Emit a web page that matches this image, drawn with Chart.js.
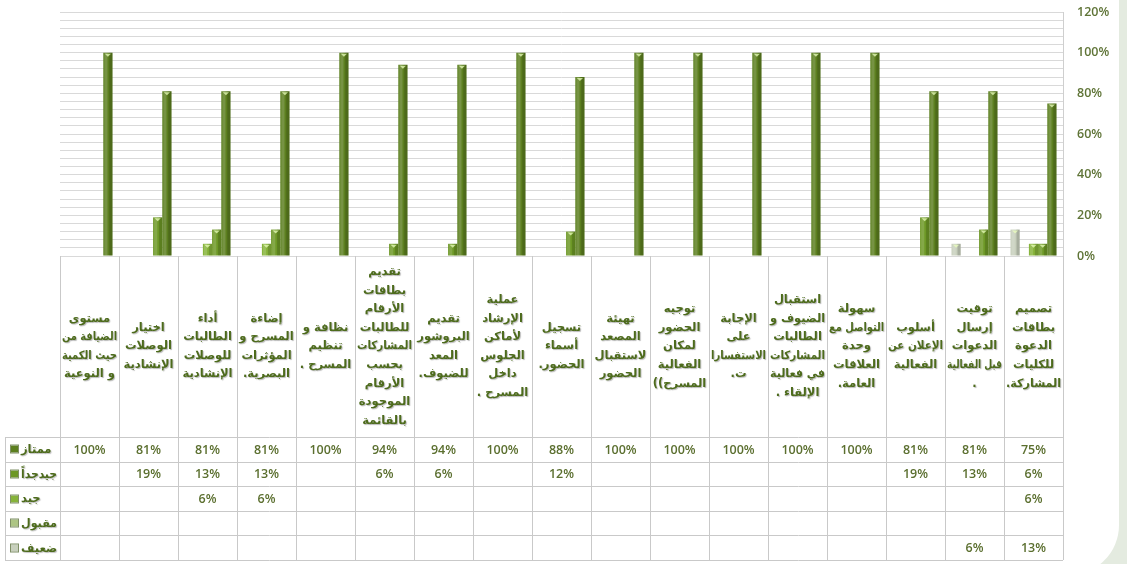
<!DOCTYPE html>
<html lang="ar">
<head>
<meta charset="utf-8">
<title>تقييم الفعالية</title>
<script src="https://cdn.jsdelivr.net/npm/chart.js@4.4.1/dist/chart.umd.min.js"></script>
<style>
	html, body { margin: 0; padding: 0; background: #e4ebe0; }
	canvas { display: block; }
</style>
</head>
<body>
<canvas id="survey_chart" width="1127" height="564"></canvas>
<script>
"use strict";

// categories, left to right as in the sheet (each entry = wrapped lines, punctuation as displayed)
const categories = [
	["مستوى", "الضيافة من", "حيث الكمية", "و النوعية"],
	["اختيار", "الوصلات", "الإنشادية"],
	["أداء", "الطالبات", "للوصلات", "الإنشادية"],
	["إضاءة", "المسرح و", "المؤثرات", ".البصرية"],
	["نظافة و", "تنظيم", ". المسرح"],
	["تقديم", "بطاقات", "الأرقام", "للطالبات", "المشاركات", "بحسب", "الأرقام", "الموجودة", "بالقائمة"],
	["تقديم", "البروشور", "المعد", ".للضيوف"],
	["عملية", "الإرشاد", "لأماكن", "الجلوس", "داخل", ". المسرح"],
	["تسجيل", "أسماء", ".الحضور"],
	["تهيئة", "المصعد", "لاستقبال", "الحضور"],
	["توجيه", "الحضور", "لمكان", "الفعالية", "((المسرح"],
	["الإجابة", "على", "الاستفسارا", ".ت"],
	["استقبال", "الضيوف و", "الطالبات", "المشاركات", "في فعالية", ". الإلقاء"],
	["سهولة", "التواصل مع", "وحدة", "العلاقات", ".العامة"],
	["أسلوب", "الإعلان عن", "الفعالية"],
	["توقيت", "إرسال", "الدعوات", "قبل الفعالية", "."],
	["تصميم", "بطاقات", "الدعوة", "للكليات", ".المشاركة"]
];

const excellent = [100, 81, 81, 81, 100, 94, 94, 100, 88, 100, 100, 100, 100, 100, 81, 81, 75];
const veryGood  = [null, 19, 13, 13, null, 6, 6, null, 12, null, null, null, null, null, 19, 13, 6];
const good      = [null, null, 6, 6, null, null, null, null, null, null, null, null, null, null, null, null, 6];
const fair      = [null, null, null, null, null, null, null, null, null, null, null, null, null, null, null, null, null];
const weak      = [null, null, null, null, null, null, null, null, null, null, null, null, null, null, null, 6, 13];

const seriesNames = ["ممتاز", "جيدجداً", "جيد", "مقبول", "ضعيف"];
const seriesColours = ["#5c7f1f", "#6d9826", "#86b33a", "#adc584", "#c8d0bd"];
const yLabelStep = 20;

const HEADER_H = 181;
const ROW_H = 24.6;
const TEXT_GREEN = "#4d6b1c";

// rows of the data table, top to bottom
const tableRows = [
	{ name: seriesNames[0], colour: seriesColours[0], values: excellent },
	{ name: seriesNames[1], colour: seriesColours[1], values: veryGood },
	{ name: seriesNames[2], colour: seriesColours[2], values: good },
	{ name: seriesNames[3], colour: seriesColours[3], values: fair },
	{ name: seriesNames[4], colour: seriesColours[4], values: weak }
];

const pagePlugin = {
	id: "page",
	beforeDraw: function (chart) {
		const ctx = chart.ctx;
		ctx.save();
		ctx.fillStyle = "#e4ebe0";
		ctx.fillRect(0, 0, chart.width, chart.height);
		ctx.fillStyle = "#ffffff";
		ctx.beginPath();
		ctx.roundRect(-60, -60, 1119 + 60, 575 + 60, 50);
		ctx.fill();
		ctx.restore();
	}
};

// cylinder-ish shading on each bar
const barShadePlugin = {
	id: "barShade",
	afterDatasetsDraw: function (chart) {
		const ctx = chart.ctx;
		ctx.save();
		chart.data.datasets.forEach(function (ds, di) {
			const meta = chart.getDatasetMeta(di);
			meta.data.forEach(function (bar, i) {
				if (ds.data[i] == null) { return; }
				const p = bar.getProps(["x", "y", "base", "width"], true);
				const l = p.x - p.width / 2;
				const h = p.base - p.y;
				ctx.fillStyle = "rgba(255,255,255,0.16)";
				ctx.fillRect(l + 1, p.y, p.width * 0.35, h);
				ctx.fillStyle = "rgba(0,0,0,0.16)";
				ctx.fillRect(p.x + p.width * 0.15, p.y, p.width * 0.35, h);
				ctx.fillStyle = "rgba(235,255,190,0.75)";
				ctx.beginPath();
				ctx.moveTo(l + 1.5, p.y + 1);
				ctx.lineTo(l + p.width - 1.5, p.y + 1);
				ctx.lineTo(p.x, p.y + 4);
				ctx.closePath();
				ctx.fill();
			});
		});
		ctx.restore();
	}
};

function hline(ctx, x1, x2, y) {
	ctx.beginPath();
	ctx.moveTo(x1, Math.round(y) + 0.5);
	ctx.lineTo(x2, Math.round(y) + 0.5);
	ctx.stroke();
}

function vline(ctx, x, y1, y2) {
	ctx.beginPath();
	ctx.moveTo(Math.round(x) + 0.5, y1);
	ctx.lineTo(Math.round(x) + 0.5, y2);
	ctx.stroke();
}

// squeeze a line horizontally when it is wider than the column
function fitText(ctx, t, cx, cy, maxW) {
	const w = ctx.measureText(t).width;
	if (w <= maxW) {
		ctx.fillText(t, cx, cy);
		return;
	}
	ctx.save();
	ctx.translate(cx, cy);
	ctx.scale(maxW / w, 1);
	ctx.fillText(t, 0, 0);
	ctx.restore();
}

// Excel style data table under the plot, columns taken from the x scale
const tablePlugin = {
	id: "dataTable",
	afterDraw: function (chart) {
		const ctx = chart.ctx;
		const xs = chart.scales.x;
		const n = categories.length;
		const colW = (xs.right - xs.left) / n;
		const headTop = chart.chartArea.bottom;
		const headBottom = headTop + HEADER_H;
		const tableLeft = 5;
		const tableBottom = headBottom + ROW_H * tableRows.length;

		ctx.save();
		ctx.strokeStyle = "#c9c9c9";
		ctx.lineWidth = 1;
		for (let i = 0; i <= n; i++) {
			vline(ctx, xs.left + i * colW, headTop, tableBottom);
		}
		vline(ctx, tableLeft, headBottom, tableBottom);
		for (let r = 0; r <= tableRows.length; r++) {
			hline(ctx, tableLeft, xs.right, headBottom + r * ROW_H);
		}

		// category headers
		ctx.direction = "ltr";
		ctx.textAlign = "center";
		ctx.textBaseline = "middle";
		ctx.font = "bold 11.5px 'DejaVu Sans'";
		ctx.fillStyle = TEXT_GREEN;
		ctx.shadowColor = "rgba(0,0,0,0.28)";
		ctx.shadowOffsetX = 1;
		ctx.shadowOffsetY = 1;
		ctx.shadowBlur = 1;
		const lineH = 18.6;
		categories.forEach(function (lines, i) {
			const cx = xs.getPixelForValue(i);
			const top = (headTop + headBottom) / 2 - (lines.length - 1) * lineH / 2;
			lines.forEach(function (t, k) {
				fitText(ctx, t, cx, top + k * lineH, colW - 4);
			});
		});

		// legend keys + values
		tableRows.forEach(function (row, r) {
			const cy = headBottom + r * ROW_H + ROW_H / 2;
			ctx.shadowColor = "transparent";
			ctx.fillStyle = row.colour;
			ctx.fillRect(11, Math.round(cy) - 3.5, 7, 7);
			ctx.strokeStyle = "#7f8f66";
			ctx.strokeRect(10.5, Math.round(cy) - 4, 8, 8);
			ctx.fillStyle = TEXT_GREEN;
			ctx.shadowColor = "rgba(0,0,0,0.25)";
			ctx.font = "bold 11.5px 'DejaVu Sans'";
			ctx.textAlign = "left";
			fitText(ctx, row.name, 21, cy + 1, 36);

			ctx.shadowColor = "transparent";
			ctx.textAlign = "center";
			ctx.font = "600 12.5px 'Open Sans'";
			ctx.fillStyle = "#5b6f2f";
			row.values.forEach(function (v, i) {
				if (v == null) { return; }
				ctx.fillText(v + "%", xs.getPixelForValue(i), cy + 1);
			});
		});
		ctx.restore();
	}
};

// datasets drawn left to right inside each group: weakest first
const datasets = [
	{ label: seriesNames[4], data: weak, backgroundColor: seriesColours[4] },
	{ label: seriesNames[3], data: fair, backgroundColor: seriesColours[3] },
	{ label: seriesNames[2], data: good, backgroundColor: seriesColours[2] },
	{ label: seriesNames[1], data: veryGood, backgroundColor: seriesColours[1] },
	{ label: seriesNames[0], data: excellent, backgroundColor: seriesColours[0] }
];

new Chart(document.getElementById("survey_chart"), {
	type: "bar",
	data: {
		labels: categories,
		datasets: datasets.map(function (d) {
			return Object.assign({ borderWidth: 0, categoryPercentage: 0.78, barPercentage: 1 }, d);
		})
	},
	options: {
		responsive: false,
		animation: false,
		layout: { padding: { left: 60, right: 0, top: 12, bottom: 308 } },
		plugins: {
			legend: { display: false },
			tooltip: { enabled: false }
		},
		scales: {
			x: { display: false },
			y: {
				position: "right",
				min: 0,
				max: 120,
				afterFit: function (scale) {
					scale.width = 64;
					scale.paddingTop = 0;
					scale.paddingBottom = 0;
				},
				border: { display: true, color: "#cfcfcf" },
				grid: { color: "#d9d9d9", drawTicks: false },
				ticks: {
					stepSize: 4,
					autoSkip: false,
					padding: 14,
					color: "#5f7437",
					font: { family: "'Open Sans'", size: 12.5, weight: "600" },
					callback: function (v) { return v % yLabelStep === 0 ? v + "%" : ""; }
				}
			}
		}
	},
	plugins: [pagePlugin, barShadePlugin, tablePlugin]
});
</script>
</body>
</html>
